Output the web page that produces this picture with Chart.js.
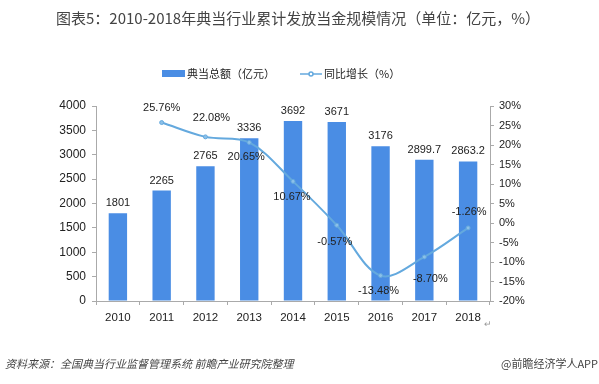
<!DOCTYPE html>
<html>
<head>
<meta charset="utf-8">
<script src="https://cdn.jsdelivr.net/npm/chart.js@4"></script>
<style>
  body { margin: 0; background: #fff; }
  #wrap { position: relative; width: 599px; height: 384px; }
</style>
</head>
<body>
<div id="wrap"><canvas id="chart" width="599" height="384"></canvas></div>
<script>
const years = ['2010', '2011', '2012', '2013', '2014', '2015', '2016', '2017', '2018'];
const totals = [1801, 2265, 2765, 3336, 3692, 3671, 3176, 2899.7, 2863.2];
const growth = [null, 25.76, 22.08, 20.65, 10.67, -0.57, -13.48, -8.70, -1.26];
const leftTicks = [0, 4000, 500];
const rightTicks = [-20, 30, 5];

// где рисовать подписи процентов относительно точки
const growthLabelShift = [null, [0, -15], [6, -19], [-3, 15], [-1, 16], [-2, 17], [-2, 15], [6, 22], [1, -16]];

const FONT = '"Liberation Sans", "Noto Sans CJK SC", sans-serif';
const CJK = '"Noto Sans CJK SC", sans-serif';
const barColor = '#4a8de4';
const lineColor = '#64a9de';

const extras = {
  id: 'extras',
  afterDatasetsDraw(chart) {
    const ctx = chart.ctx;
    ctx.save();
    ctx.textAlign = 'center';
    ctx.textBaseline = 'middle';
    ctx.fillStyle = '#222';
    ctx.font = '11px ' + FONT;

    const bars = chart.getDatasetMeta(0).data;
    bars.forEach((b, i) => {
      ctx.fillText(String(totals[i]), b.x, b.y - 10);
    });

    const pts = chart.getDatasetMeta(1).data;
    pts.forEach((p, i) => {
      if (growth[i] === null) return;
      const s = growthLabelShift[i];
      ctx.fillText(growth[i].toFixed(2) + '%', p.x + s[0], p.y + s[1]);
    });
    ctx.restore();
  },
  afterDraw(chart) {
    const ctx = chart.ctx;
    ctx.save();
    ctx.textBaseline = 'middle';

    // заголовок
    ctx.fillStyle = '#444';
    ctx.textAlign = 'center';
    ctx.font = '15px ' + CJK;
    ctx.fillText('图表5：2010-2018年典当行业累计发放当金规模情况（单位：亿元，%）', 298, 18);

    // легенда
    ctx.font = '11px ' + CJK;
    ctx.fillStyle = barColor;
    ctx.fillRect(162, 70, 23, 7);
    ctx.fillStyle = '#222';
    ctx.textAlign = 'left';
    ctx.fillText('典当总额（亿元）', 187, 74);

    ctx.strokeStyle = lineColor;
    ctx.lineWidth = 1.5;
    ctx.beginPath();
    ctx.moveTo(300, 74);
    ctx.lineTo(322, 74);
    ctx.stroke();
    ctx.beginPath();
    ctx.arc(311, 74, 2, 0, Math.PI * 2);
    ctx.fillStyle = '#fff';
    ctx.fill();
    ctx.stroke();
    ctx.fillStyle = '#222';
    ctx.fillText('同比增长（%）', 324, 74);

    // источник
    ctx.fillStyle = '#444';
    ctx.font = 'italic 11px ' + CJK;
    ctx.fillText('资料来源：全国典当行业监督管理系统 前瞻产业研究院整理', 5, 364);
    ctx.textAlign = 'right';
    ctx.font = '11px ' + CJK;
    ctx.fillText('@前瞻经济学人APP', 598, 364);

    ctx.fillStyle = '#999';
    ctx.font = '9px ' + FONT;
    ctx.textAlign = 'center';
    ctx.fillText('↵', 488, 325);
    ctx.restore();
  }
};

const ctx = document.getElementById('chart').getContext('2d');
window.statistics = new Chart(ctx, {
  type: 'bar',
  data: {
    labels: years,
    datasets: [{
      type: 'bar',
      label: '典当总额（亿元）',
      data: totals,
      backgroundColor: barColor,
      barPercentage: 0.42,
      categoryPercentage: 1,
      yAxisID: 'y',
      order: 2
    }, {
      type: 'line',
      label: '同比增长（%）',
      data: growth,
      borderColor: lineColor,
      borderWidth: 2,
      pointRadius: 2,
      pointBackgroundColor: '#8cc0e8',
      pointBorderColor: lineColor,
      pointBorderWidth: 1,
      tension: 0.35,
      yAxisID: 'y1',
      order: 1
    }]
  },
  options: {
    responsive: false,
    animation: false,
    events: [],
    layout: { padding: { top: 106, left: 0, right: 0, bottom: 0 } },
    plugins: { legend: { display: false }, title: { display: false }, tooltip: { enabled: false } },
    scales: {
      x: {
        grid: { display: true, drawOnChartArea: false, offset: true, tickLength: 4, color: '#aaa' },
        border: { color: '#aaa' },
        ticks: { color: '#222', font: { size: 11.5, family: FONT }, padding: 6 },
        afterFit(s) { s.height = 83; }
      },
      y: {
        position: 'left',
        min: leftTicks[0], max: leftTicks[1],
        grid: { display: true, drawOnChartArea: false, tickLength: 4, color: '#aaa' },
        border: { color: '#aaa' },
        ticks: { stepSize: leftTicks[2], color: '#222', font: { size: 12, family: FONT }, padding: 6,
          callback: v => String(v) },
        afterFit(s) { s.width = 96; }
      },
      y1: {
        position: 'right',
        min: rightTicks[0], max: rightTicks[1],
        grid: { display: true, drawOnChartArea: false, tickLength: 4, color: '#aaa' },
        border: { color: '#aaa' },
        ticks: { stepSize: rightTicks[2], color: '#222', font: { size: 11, family: FONT }, padding: 5,
          callback: v => v + '%' },
        afterFit(s) { s.width = 109; }
      }
    }
  },
  plugins: [extras]
});
</script>
</body>
</html>
